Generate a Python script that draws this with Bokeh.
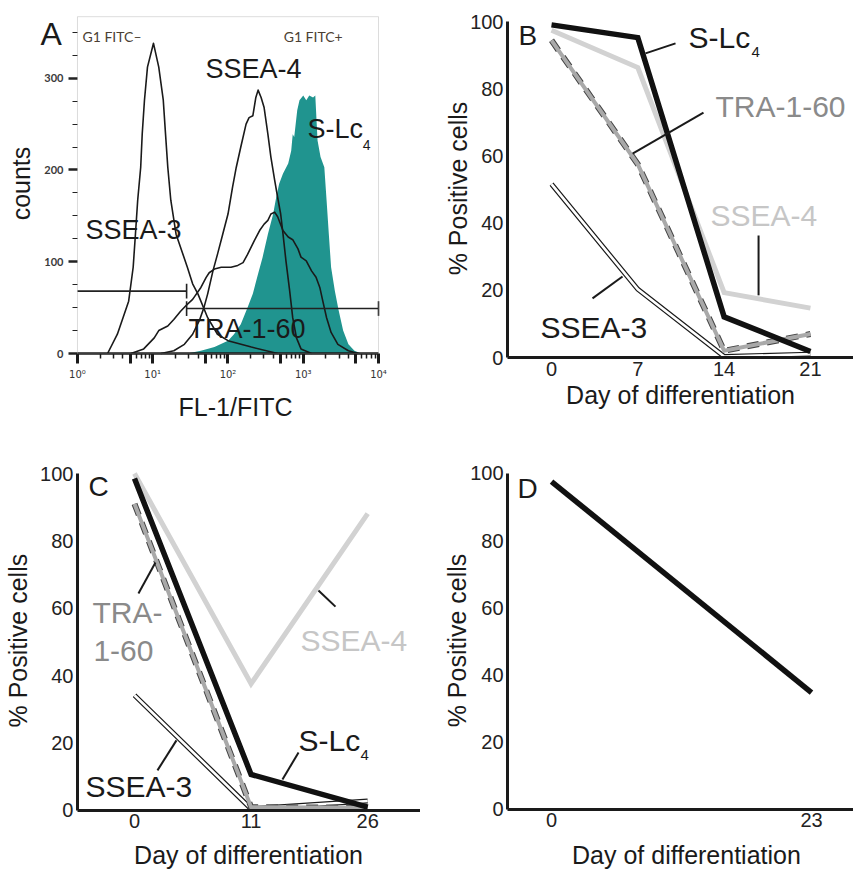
import numpy as np
from bokeh.plotting import figure
from bokeh.models import Label, FixedTicker, Range1d, CustomJSTickFormatter, BoxAnnotation
from bokeh.layouts import column, row
from bokeh.embed import file_html
from bokeh.resources import INLINE

FONT = "Liberation Sans"
INK = "#1a1a1a"
TEAL = "#20948f"
LIGHT = "#d2d2d2"
MID = "#a9a9a9"

# ---------------- Panel A: flow cytometry histograms (x = log10 FL-1) ----------------
a_ssea3_log = [0.40, 0.53, 0.68, 0.74, 0.77, 0.80, 0.84, 0.86, 0.89, 0.93, 1.01, 1.08, 1.14, 1.17, 1.20,
               1.24, 1.31, 1.46, 1.53, 1.60, 1.73, 1.86, 2.00, 2.31, 2.66]
a_ssea3_cnt = [0, 21, 57, 94, 130, 167, 203, 239, 276, 312, 338, 312, 276, 239, 203,
               167, 130, 94, 76, 65, 39, 21, 14, 7, 0]

a_tra_log = [0.71, 0.88, 1.02, 1.08, 1.20, 1.28, 1.37, 1.44, 1.53, 1.64, 1.71, 1.75, 1.82, 1.91, 2.04,
             2.13, 2.20, 2.26, 2.35, 2.42, 2.48, 2.53, 2.57, 2.62, 2.66, 2.73, 2.80, 2.86, 2.93, 2.97,
             3.04, 3.11, 3.17, 3.22, 3.26, 3.31, 3.37, 3.46, 3.60, 3.73]
a_tra_cnt = [0, 5, 17, 25, 30, 37, 46, 52, 59, 72, 83, 88, 92, 94, 94,
             96, 99, 108, 123, 134, 141, 145, 152, 154, 149, 134, 127, 124, 114, 105,
             101, 90, 83, 72, 57, 39, 23, 10, 3, 0]

a_ssea4_log = [1.11, 1.28, 1.42, 1.53, 1.62, 1.68, 1.73, 1.80, 1.86, 1.93, 2.00, 2.06, 2.11, 2.17, 2.24,
               2.28, 2.33, 2.37, 2.40, 2.44, 2.48, 2.53, 2.57, 2.62, 2.66, 2.70, 2.73, 2.77, 2.82, 2.86,
               2.91, 2.97, 3.11]
a_ssea4_cnt = [0, 3, 10, 21, 36, 50, 65, 90, 108, 130, 152, 181, 203, 225, 250,
               257, 259, 279, 287, 279, 268, 239, 214, 189, 170, 152, 131, 101, 68, 39,
               17, 5, 0]

a_slc4_log = [1.46, 1.64, 1.82, 2.00, 2.08, 2.17, 2.26, 2.33, 2.40, 2.46, 2.53, 2.60, 2.64, 2.68, 2.73,
              2.80, 2.84, 2.86, 2.88, 2.92, 2.95, 3.00, 3.04, 3.08, 3.13, 3.16, 3.19, 3.23, 3.28, 3.31,
              3.34, 3.37, 3.42, 3.47, 3.53, 3.60, 3.68, 3.77]
a_slc4_cnt = [0, 3, 7, 14, 21, 32, 50, 65, 87, 105, 130, 152, 170, 185, 196,
              207, 221, 239, 236, 265, 276, 281, 276, 281, 279, 281, 232, 214, 203, 167,
              130, 94, 68, 47, 25, 10, 3, 0]

# gates: (start log, end log, level count)
gate_neg = [0.0, 1.45, 68]
gate_pos = [1.45, 4.0, 49]

a_yticks = [0, 100, 200, 300]
a_xdecades = [0, 1, 2, 3, 4]
a_count_top = 367

# ---------------- Panels B, C, D: % positive cells ----------------
b_days = ["0", "7", "14", "21"]
b_slc4 = [99.0, 95.2, 12.1, 1.8]
b_ssea4 = [97.4, 86.3, 19.3, 14.7]
b_tra = [94.4, 57.5, 2.0, 7.0]
b_ssea3 = [51.6, 20.3, 0.3, 1.0]

c_days = ["0", "11", "26"]
c_slc4 = [98.5, 10.7, 1.0]
c_ssea4 = [100.0, 37.6, 88.1]
c_tra = [91.0, 1.0, 0.8]
c_ssea3 = [34.2, 0.5, 2.8]

d_days = ["0", "23"]
d_slc4 = [97.6, 34.8]

pct_ticks = [0, 20, 40, 60, 80, 100]


def add_text(p, x, y, txt, size, color=INK, align="left", angle=0.0, font=FONT, style="normal"):
    p.add_layout(Label(x=x, y=y, text=txt, text_font=font, text_font_size=f"{size}px",
                       text_color=color, text_align=align, text_baseline="middle",
                       angle=angle, text_font_style=style))


def bare_figure(width, height, xr, yr):
    p = figure(width=width, height=height, x_range=Range1d(*xr), y_range=Range1d(*yr),
               output_backend="svg", toolbar_location=None,
               min_border_left=0, min_border_right=0, min_border_top=0, min_border_bottom=0)
    p.grid.visible = False
    p.outline_line_color = None
    return p


# ---------------- Panel A ----------------
pA = bare_figure(420, 420, (-1.023, 4.558), (-73.0, 384.65))
pA.add_layout(BoxAnnotation(left=0, right=4, bottom=0, top=a_count_top, fill_alpha=0,
                            line_color="#8a8a8a", line_width=1))

pA.varea(x=a_slc4_log, y1=0, y2=a_slc4_cnt, fill_color=TEAL)
for lx, cy in ((a_ssea3_log, a_ssea3_cnt), (a_tra_log, a_tra_cnt), (a_ssea4_log, a_ssea4_cnt)):
    pA.line(lx, cy, line_color=INK, line_width=1.6, line_join="round")

for g in (gate_neg, gate_pos):
    pA.line([g[0], g[1]], [g[2], g[2]], line_color="#222222", line_width=1.6)
pA.segment([gate_neg[1], gate_pos[0], gate_pos[1]],
           [gate_neg[2] - 8, gate_pos[2] - 8, gate_pos[2] - 8],
           [gate_neg[1], gate_pos[0], gate_pos[1]],
           [gate_neg[2] + 8, gate_pos[2] + 8, gate_pos[2] + 8],
           line_color="#222222", line_width=1.6)

xminor = [np.log10(k * 10 ** d) for d in range(4) for k in (2, 3, 4, 6, 7, 8, 9)]
xfive = [np.log10(5 * 10 ** d) for d in range(4)]
pA.xaxis.fixed_location = 0
pA.xaxis.bounds = (0, 4)
pA.xaxis.ticker = FixedTicker(ticks=a_xdecades + xfive, minor_ticks=xminor)
pA.xaxis.formatter = CustomJSTickFormatter(
    code="const s=['\u2070','\u00b9','\u00b2','\u00b3','\u2074']; "
         "return (Math.abs(tick-Math.round(tick))<1e-9) ? '10'+s[Math.round(tick)] : '';")
pA.xaxis.axis_line_color = INK
pA.xaxis.axis_line_width = 2.5
pA.xaxis.major_tick_out = 10
pA.xaxis.major_tick_in = 0
pA.xaxis.major_tick_line_width = 3
pA.xaxis.major_tick_line_color = INK
pA.xaxis.minor_tick_out = 5
pA.xaxis.minor_tick_in = 0
pA.xaxis.minor_tick_line_width = 1.5
pA.xaxis.minor_tick_line_color = INK
pA.xaxis.major_label_text_font = "DejaVu Sans"
pA.xaxis.major_label_text_font_size = "10px"
pA.xaxis.major_label_text_color = "#333333"
pA.xaxis.major_label_standoff = 5

pA.yaxis.fixed_location = 0
pA.yaxis.bounds = (0, a_count_top)
pA.yaxis.ticker = FixedTicker(ticks=a_yticks,
                              minor_ticks=[25, 50, 75, 125, 150, 175, 225, 250, 275, 325, 350])
pA.yaxis.axis_line_color = None
pA.yaxis.major_tick_out = 9
pA.yaxis.major_tick_in = 0
pA.yaxis.major_tick_line_width = 2.5
pA.yaxis.major_tick_line_color = "#222222"
pA.yaxis.minor_tick_out = 5
pA.yaxis.minor_tick_in = 0
pA.yaxis.minor_tick_line_width = 1.2
pA.yaxis.minor_tick_line_color = "#222222"
pA.yaxis.major_label_text_font = "Lato"
pA.yaxis.major_label_text_font_style = "bold"
pA.yaxis.major_label_text_font_size = "11px"
pA.yaxis.major_label_text_color = "#3a3a3a"
pA.yaxis.major_label_standoff = 5

add_text(pA, -0.49, 348.2, "A", 32)
add_text(pA, 0.066, 345.4, "G1 FITC\u2013", 14, color="#4b3f33", font="Lato")
add_text(pA, 2.74, 345.4, "G1 FITC+", 14, color="#4b3f33", font="Lato")
add_text(pA, 1.70, 309.5, "SSEA-4", 27)
add_text(pA, 3.056, 244.1, "S-Lc", 27)
add_text(pA, 3.79, 226.7, "4", 14)
add_text(pA, 0.106, 135.1, "SSEA-3", 27)
add_text(pA, 1.475, 26.2, "TRA-1-60", 27)
add_text(pA, -0.745, 185.2, "counts", 25, align="center", angle=np.pi / 2)
add_text(pA, 2.10, -57.8, "FL-1/FITC", 25, align="center")


# ---------------- helper for B, C, D ----------------
def line_panel(width, height, xr, yr, xbounds, labels):
    p = bare_figure(width, height, xr, yr)
    for ax in (p.xaxis[0], p.yaxis[0]):
        ax.axis_line_width = 3
        ax.axis_line_color = INK
        ax.major_tick_line_color = None
        ax.minor_tick_line_color = None
        ax.major_tick_out = 0
        ax.major_tick_in = 0
        ax.minor_tick_out = 0
        ax.minor_tick_in = 0
        ax.major_label_text_font = FONT
        ax.major_label_text_font_size = "20px"
        ax.major_label_text_color = "#222222"
        ax.major_label_standoff = 4
    p.yaxis.fixed_location = xbounds[0]
    p.yaxis.ticker = FixedTicker(ticks=pct_ticks)
    p.yaxis.bounds = (0, 100)
    p.xaxis.fixed_location = 0
    p.xaxis.bounds = xbounds
    p.xaxis.ticker = FixedTicker(ticks=list(range(len(labels))))
    p.xaxis.major_label_overrides = {i: l for i, l in enumerate(labels)}
    return p


def draw_series(p, xs, ssea3, tra, ssea4, slc4):
    p.line(xs, ssea3, line_color=INK, line_width=5, line_join="miter")
    p.line(xs, ssea3, line_color="white", line_width=2.6, line_join="miter")
    p.line(xs, tra, line_color="#444444", line_width=6, line_dash="12 8", line_join="miter")
    p.line(xs, tra, line_color=MID, line_width=4, line_join="miter")
    p.line(xs, ssea4, line_color=LIGHT, line_width=5, line_join="miter")
    p.line(xs, slc4, line_color="#111111", line_width=5.5, line_join="miter")


# ---------------- Panel B ----------------
pB = line_panel(433, 420, (-1.518, 3.499), (-18.75, 106.25), (-0.51, 3.499), b_days)
draw_series(pB, list(range(len(b_days))), b_ssea3, b_tra, b_ssea4, b_slc4)
pB.segment([1.089, 0.939, 2.399, 0.475], [90.5, 60.7, 36.3, 17.6],
           [1.437, 1.761, 2.399, 0.823], [93.5, 72.9, 18.5, 24.1],
           line_color=INK, line_width=2)
add_text(pB, -0.382, 95.8, "B", 28)
add_text(pB, 1.587, 95.1, "S-Lc", 30)
add_text(pB, 2.317, 90.8, "4", 15)
add_text(pB, 1.90, 74.6, "TRA-1-60", 30, color="#8a8a8a")
add_text(pB, 1.842, 42.3, "SSEA-4", 30, color="#c6c6c6")
add_text(pB, -0.127, 8.8, "SSEA-3", 30)
add_text(pB, -1.089, 50.3, "% Positive cells", 25, align="center", angle=np.pi / 2)
add_text(pB, 1.495, -11.3, "Day of differentiation", 25, align="center")

# ---------------- Panel C ----------------
pC = line_panel(420, 449, (-1.149, 2.453), (-17.51, 115.73), (-0.489, 2.453), c_days)
draw_series(pC, list(range(len(c_days))), c_ssea3, c_tra, c_ssea4, c_slc4)
pC.segment([0.034, 1.578, 1.269, 0.197], [64.4, 65.3, 9.2, 11.9],
           [0.18, 1.724, 1.407, 0.36], [73.6, 60.5, 17.2, 20.8],
           line_color=INK, line_width=2)
add_text(pC, -0.395, 96.0, "C", 28)
add_text(pC, -0.36, 58.9, "TRA-", 30, color="#8a8a8a")
add_text(pC, -0.352, 47.2, "1-60", 30, color="#8a8a8a")
add_text(pC, 1.424, 50.4, "SSEA-4", 30, color="#c6c6c6")
add_text(pC, 1.407, 20.8, "S-Lc", 30)
add_text(pC, 1.938, 16.6, "4", 15)
add_text(pC, -0.42, 7.1, "SSEA-3", 30)
add_text(pC, -0.995, 50.4, "% Positive cells", 25, align="center", angle=np.pi / 2)
add_text(pC, 0.978, -13.1, "Day of differentiation", 25, align="center")

# ---------------- Panel D ----------------
pD = line_panel(433, 449, (-0.504, 1.1615), (-17.86, 115.77), (-0.169, 1.1615), d_days)
pD.line(list(range(len(d_days))), d_slc4, line_color="#111111", line_width=5.5)
add_text(pD, -0.131, 95.5, "D", 28)
add_text(pD, -0.365, 50.3, "% Positive cells", 25, align="center", angle=np.pi / 2)
add_text(pD, 0.519, -13.4, "Day of differentiation", 25, align="center")

layout = column(row(pA, pB), row(pC, pD))
open("out.html", "w").write(file_html(layout, INLINE))
